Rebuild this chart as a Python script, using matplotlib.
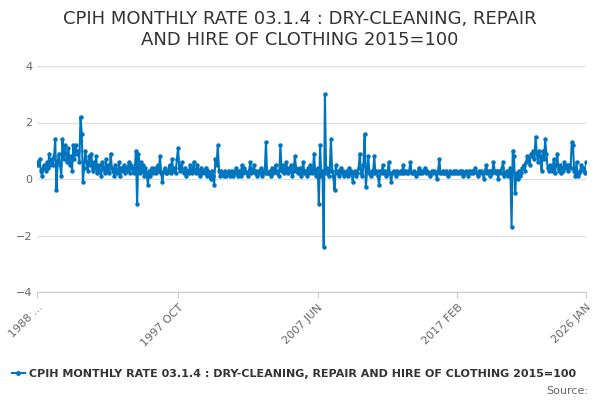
import matplotlib
matplotlib.use("Agg")
import matplotlib.pyplot as plt
import pandas as pd

years_values = {
1988: [0.6, 0.5, 0.7, 0.3, 0.1, 0.4, 0.5, 0.3, 0.6, 0.4, 0.9, 0.5],
1989: [0.7, 0.5, 0.8, 1.4, -0.4, 0.6, 0.9, 0.5, 0.1, 1.4, 0.7, 1.2],
1990: [0.9, 0.6, 1.1, 0.5, 0.8, 0.3, 1.2, 0.7, 1.2, 0.9, 1.0, 0.6],
1991: [2.2, 1.6, -0.1, 0.4, 1.0, 0.6, 0.3, 0.8, 0.5, 0.9, 0.3, 0.6],
1992: [0.4, 0.8, 0.2, 0.5, 0.3, 0.1, 0.6, 0.4, 0.2, 0.7, 0.3, 0.5],
1993: [0.2, 0.9, 0.4, 0.3, 0.1, 0.5, 0.2, 0.3, 0.6, 0.1, 0.4, 0.3],
1994: [0.5, 0.2, 0.4, 0.3, 0.6, 0.2, 0.5, 0.4, 0.2, 0.3, 1.0, -0.9],
1995: [0.9, 0.2, 0.6, 0.3, 0.5, 0.1, 0.4, 0.2, -0.2, 0.3, 0.1, 0.4],
1996: [0.2, 0.3, 0.4, 0.2, 0.5, 0.3, 0.8, 0.2, -0.1, 0.3, 0.4, 0.2],
1997: [0.2, 0.3, 0.5, 0.2, 0.7, 0.3, 0.4, 0.2, 0.7, 1.1, 0.4, 0.3],
1998: [0.6, 0.3, 0.2, 0.4, 0.1, 0.3, 0.2, 0.5, 0.3, 0.2, 0.6, 0.3],
1999: [0.2, 0.5, 0.3, 0.1, 0.4, 0.2, 0.3, 0.2, 0.4, 0.1, 0.3, 0.2],
2000: [0.0, 0.3, 0.1, -0.2, 0.7, 0.5, 1.2, 0.3, 0.1, 0.3, 0.2, 0.1],
2001: [0.3, 0.1, 0.2, 0.3, 0.1, 0.2, 0.3, 0.1, 0.2, 0.4, 0.2, 0.1],
2002: [0.3, 0.1, 0.5, 0.2, 0.4, 0.3, 0.2, 0.1, 0.3, 0.6, 0.2, 0.3],
2003: [0.5, 0.2, 0.3, 0.1, 0.3, 0.2, 0.4, 0.1, 0.3, 0.2, 1.3, 0.2],
2004: [0.2, 0.3, 0.1, 0.4, 0.2, 0.3, 0.5, 0.2, 0.3, 0.1, 1.2, 0.3],
2005: [0.5, 0.2, 0.3, 0.6, 0.2, 0.4, 0.3, 0.5, 0.1, 0.3, 0.8, 0.4],
2006: [0.3, 0.2, 0.4, 0.1, 0.3, 0.6, 0.2, 0.3, 0.1, 0.4, 0.2, 0.5],
2007: [0.2, 0.3, 0.9, 0.2, 0.1, 0.4, -0.9, 1.2, 0.1, 0.3, -2.4, 3.0],
2008: [0.2, 0.4, 0.1, 0.3, 1.4, 0.3, 0.1, -0.4, 0.5, 0.2, 0.3, 0.1],
2009: [0.4, 0.2, 0.3, 0.1, 0.2, 0.3, 0.1, 0.4, 0.2, 0.3, -0.1, 0.2],
2010: [0.3, 0.1, 0.2, 0.4, 0.9, 0.2, 0.1, 0.5, 1.6, -0.3, 0.3, 0.8],
2011: [0.2, 0.1, 0.3, 0.2, 0.8, 0.2, 0.3, 0.1, -0.2, 0.3, 0.2, 0.5],
2012: [0.2, 0.3, 0.1, 0.2, 0.6, 0.2, -0.1, 0.2, 0.3, 0.2, 0.1, 0.3],
2013: [0.2, 0.2, 0.3, 0.2, 0.5, 0.2, 0.3, 0.2, 0.2, 0.3, 0.6, 0.2],
2014: [0.2, 0.3, 0.2, 0.1, 0.2, 0.4, 0.2, 0.3, 0.2, 0.3, 0.4, 0.2],
2015: [0.3, 0.2, 0.1, 0.2, 0.3, 0.2, 0.3, 0.2, 0.0, 0.3, 0.7, 0.2],
2016: [0.2, 0.3, 0.2, 0.2, 0.3, 0.1, 0.2, 0.3, 0.2, 0.2, 0.3, 0.2],
2017: [0.3, 0.2, 0.2, 0.3, 0.2, 0.3, 0.1, 0.2, 0.3, 0.2, 0.1, 0.3],
2018: [0.2, 0.3, 0.2, 0.3, 0.4, 0.2, 0.1, 0.3, 0.2, 0.3, 0.2, 0.0],
2019: [0.3, 0.5, 0.2, 0.3, 0.1, 0.3, 0.2, 0.6, 0.3, 0.2, 0.3, 0.0],
2020: [0.3, 0.2, 0.4, 0.6, 0.1, 0.2, 0.3, 0.1, 0.2, 0.4, -1.7, 1.0],
2021: [0.8, -0.5, 0.2, 0.0, 0.3, 0.1, 0.2, 0.4, 0.5, 0.3, 0.6, 0.8],
2022: [0.7, 0.5, 0.9, 0.8, 1.0, 0.7, 1.5, 0.9, 0.6, 1.0, 0.8, 0.3],
2023: [1.0, 0.7, 1.4, 0.9, 0.4, 0.3, 0.5, 0.4, 0.3, 0.7, 0.2, 0.5],
2024: [0.9, 0.3, 0.5, 0.2, 0.4, 0.3, 0.6, 0.4, 0.5, 0.3, 0.5, 0.4],
2025: [1.3, 1.2, 0.3, 0.1, 0.6, 0.1, 0.2, 0.3, 0.5, 0.4, 0.3, 0.2],
2026: [0.6],
}

values = [v for y in sorted(years_values) for v in years_values[y]]
dates = pd.date_range("1988-01-01", periods=len(values), freq="MS")

tick_dates = pd.to_datetime(["1988-01-01", "1997-10-01", "2007-06-01", "2017-02-01", "2026-01-01"])
tick_labels = ["1988 ...", "1997 OCT", "2007 JUN", "2017 FEB", "2026 JAN"]

color = "#0075bf"
fig = plt.figure(figsize=(6, 4), dpi=100)
ax = fig.add_axes([0.062, 0.27, 0.915, 0.565])
ax.plot(dates, values, color=color, lw=1.5, marker="o", ms=2.2)
ax.set_ylim(-4, 4)
ax.set_yticks([-4, -2, 0, 2, 4])
ax.set_xlim(dates[0], dates[-1])
ax.set_xticks(tick_dates)
ax.set_xticklabels(tick_labels, rotation=45, ha="right", rotation_mode="anchor", color="#666666", fontsize=8)
ax.tick_params(axis="y", labelcolor="#666666", labelsize=8, length=0)
ax.tick_params(axis="x", length=4, color="#cccccc")
ax.grid(axis="y", color="#e0e0e0", lw=1)
for s in ["top", "right", "left"]:
    ax.spines[s].set_visible(False)
ax.spines["bottom"].set_color("#cccccc")

fig.suptitle("CPIH MONTHLY RATE 03.1.4 : DRY-CLEANING, REPAIR\nAND HIRE OF CLOTHING 2015=100",
             y=0.975, fontsize=13, color="#333333")
fig.legend([plt.Line2D([], [], color=color, lw=1.5, marker="o", ms=2.5)],
           ["CPIH MONTHLY RATE 03.1.4 : DRY-CLEANING, REPAIR AND HIRE OF CLOTHING 2015=100"],
           loc="center", bbox_to_anchor=(0.49, 0.065), frameon=False, fontsize=8,
           prop={"weight": "bold", "size": 8}, handlelength=1.2, handletextpad=0.4,
           labelcolor="#333333")
fig.text(0.98, 0.015, "Source:", ha="right", fontsize=8, color="#666666")
fig.savefig("out.png")
